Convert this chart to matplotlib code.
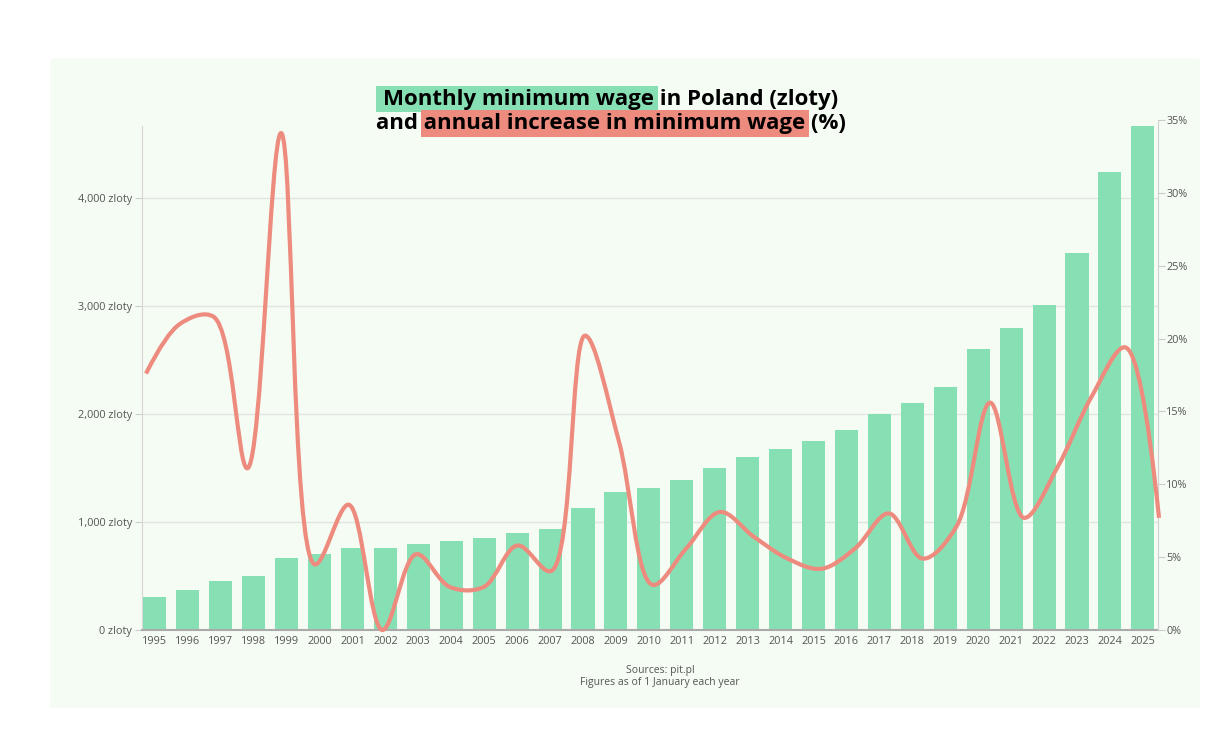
import numpy as np
import matplotlib.pyplot as plt
from matplotlib.patches import FancyBboxPatch, Rectangle, PathPatch
from matplotlib.path import Path

# data
years = list(range(1995, 2026))
wage = [305, 370, 450, 500, 667, 700, 760, 760, 800, 824, 849, 899, 936,
        1126, 1276, 1317, 1386, 1500, 1600, 1680, 1750, 1850, 2000, 2100,
        2250, 2600, 2800, 3010, 3490, 4242, 4666]
increase = [17.6, 21.0, 21.5, 11.1, 34.1, 4.5, 8.6, 0.0, 5.2, 2.95, 2.95,
            5.8, 4.05, 20.2, 13.0, 3.1, 5.6, 8.1, 6.4, 4.9, 4.2, 5.6, 8.0,
            4.9, 7.1, 15.6, 7.7, 11.2, 16.0, 19.4, 7.7]
left_ticks = [0, 1000, 2000, 3000, 4000]
left_labels = ['0 zloty', '1,000 zloty', '2,000 zloty', '3,000 zloty', '4,000 zloty']
right_ticks = [0, 5, 10, 15, 20, 25, 30, 35]

GREEN = '#87e0b4'
RED = '#ee8b7f'
TXT = '#555555'
FONT = 'Open Sans'

W, H = 1223, 745
fig = plt.figure(figsize=(W / 100, H / 100), dpi=100)
fig.patch.set_facecolor('white')
plt.rcParams['font.family'] = [FONT, 'DejaVu Sans']

# light panel behind everything
panel = FancyBboxPatch((50 / W, 37 / H), 1150 / W, 650 / H,
                       boxstyle='round,pad=0,rounding_size=0.004',
                       transform=fig.transFigure, facecolor='#f5fcf3',
                       edgecolor='none', zorder=-5)
fig.patches.append(panel)

rect = [142 / W, 115 / H, 1016 / W, 510 / H]
ax = fig.add_axes(rect)
ax.set_facecolor('none')
x = np.arange(len(years))
ax.bar(x, wage, width=0.7, color=GREEN, zorder=2)
ax.set_xlim(-0.39, 30.46)
ax.set_ylim(0, 510 / 0.108)
ax.set_yticks(left_ticks)
ax.set_yticklabels(left_labels)
ax.set_xticks(x)
ax.set_xticklabels([str(y) for y in years])
ax.grid(axis='y', color='#e2e6e2', lw=1, zorder=0)
ax.set_axisbelow(True)
ax.tick_params(axis='y', length=5, color='#cccccc', labelsize=7.8,
               labelcolor=TXT, pad=2)
ax.tick_params(axis='x', length=0, labelsize=7.8, labelcolor=TXT, pad=4)
for s in ['top', 'right']:
    ax.spines[s].set_visible(False)
ax.spines['left'].set_color('#d6d6d6')
ax.spines['left'].set_bounds(0, 4667)
ax.spines['bottom'].set_color('#aaaaaa')
ax.spines['bottom'].set_linewidth(1.5)

# second axes for the percentage line (own x spread, like the original)
ax2 = fig.add_axes(rect)
ax2.set_facecolor('none')
ax2.set_xlim(-0.118, 29.97)
ax2.set_ylim(0, 35)
ax2.xaxis.set_visible(False)
ax2.yaxis.tick_right()
ax2.set_yticks(right_ticks)
ax2.set_yticklabels([f'{t}%' for t in right_ticks])
ax2.tick_params(axis='y', length=5, color='#cccccc', labelsize=7.8,
                labelcolor=TXT, pad=1)
for s in ['top', 'left', 'bottom']:
    ax2.spines[s].set_visible(False)
ax2.spines['right'].set_color('#d0d0d0')


# plotly-like spline smoothing, computed in approx pixel space
def tangent(p0, p1, p2, sm=1.0):
    d1 = p0 - p1
    d2 = p2 - p1
    d1a = np.hypot(*d1) ** 0.5
    d2a = np.hypot(*d2) ** 0.5
    num = (d2a * d2a * d1 - d1a * d1a * d2) * sm
    den1 = 3 * d2a * (d1a + d2a)
    den2 = 3 * d1a * (d1a + d2a)
    return p1 + num / den1, p1 - num / den2


sx, sy = 33.77, 14.57
pts = np.column_stack([x * sx, np.array(increase) * sy])
tans = [tangent(pts[i - 1], pts[i], pts[i + 1]) for i in range(1, len(pts) - 1)]
verts = [pts[0], tans[0][0], pts[1]]
codes = [Path.MOVETO, Path.CURVE3, Path.CURVE3]
for i in range(2, len(pts) - 1):
    verts += [tans[i - 2][1], tans[i - 1][0], pts[i]]
    codes += [Path.CURVE4] * 3
verts += [tans[-1][1], pts[-1]]
codes += [Path.CURVE3] * 2
verts = np.array(verts) / np.array([sx, sy])
ax2.add_patch(PathPatch(Path(verts, codes), facecolor='none', edgecolor=RED,
                        lw=3, capstyle='butt', zorder=3, clip_on=False))

# title with highlighted words
r = fig.canvas.get_renderer()
tsize = 16


def text_width(s):
    t = fig.text(0, 0, s, fontsize=tsize, fontweight='bold', family=FONT)
    w = t.get_window_extent(r).width
    t.remove()
    return w


cx = 611
line1 = 'Monthly minimum wage in Poland (zloty)'
line2 = 'and annual increase in minimum wage (%)'
fig.text(cx / W, 1 - 99 / H, line1, ha='center', va='center', fontsize=tsize,
         fontweight='bold', family=FONT, zorder=5)
fig.text(cx / W, 1 - 124 / H, line2, ha='center', va='center', fontsize=tsize,
         fontweight='bold', family=FONT, zorder=5)
w1 = text_width(line1)
w2 = text_width(line2)
l1 = cx - w1 / 2
l2 = cx - w2 / 2
g_end = text_width('Monthly minimum wage')
r_start = text_width('and a') - text_width('a')
r_end = text_width('and annual increase in minimum wage')
fig.patches.append(Rectangle(((l1 - 7) / W, 1 - 112 / H), (g_end + 11) / W,
                             26 / H, transform=fig.transFigure,
                             facecolor=GREEN, edgecolor='none', zorder=1))
fig.patches.append(Rectangle(((l2 + r_start - 3) / W, 1 - 137 / H),
                             (r_end - r_start + 7) / W, 27 / H,
                             transform=fig.transFigure, facecolor=RED,
                             edgecolor='none', zorder=1))

# footnote
fig.text(660 / W, 1 - 670 / H, 'Sources: pit.pl', ha='center', va='center',
         fontsize=7.5, color=TXT)
fig.text(660 / W, 1 - 683 / H, 'Figures as of 1 January each year',
         ha='center', va='center', fontsize=7.5, color=TXT)

fig.savefig('out.png', dpi=100)
